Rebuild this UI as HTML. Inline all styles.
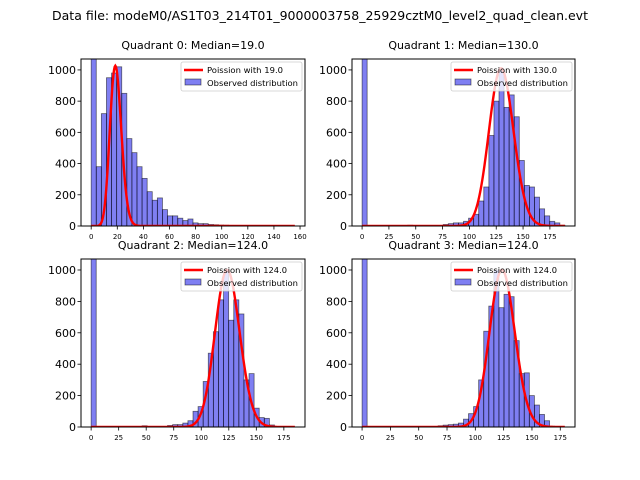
<!DOCTYPE html>
<html><head><meta charset="utf-8"><style>
html,body{margin:0;padding:0;background:#fff;}
svg{display:block;font-family:"DejaVu Sans","Liberation Sans",sans-serif;}
</style></head><body>
<svg id="chart" width="640" height="480" viewBox="0 0 640 480">
<text x="320" y="20" text-anchor="middle" font-size="12" textLength="536" lengthAdjust="spacingAndGlyphs">Data file: modeM0/AS1T03_214T01_9000003758_25929cztM0_level2_quad_clean.evt</text>
</svg>
<script>
// Data per quadrant
const quadTitles = ["Quadrant 0: Median=19.0","Quadrant 1: Median=130.0","Quadrant 2: Median=124.0","Quadrant 3: Median=124.0"];
const medians = [19.0, 130.0, 124.0, 124.0];
const dataMax = [156, 189, 185, 179];
const curvePeaks = [1020, 1010, 1000, 1000];
const xTicks = [[0,20,40,60,80,100,120,140,160],[0,25,50,75,100,125,150,175],[0,25,50,75,100,125,150,175],[0,25,50,75,100,125,150,175]];
const yTicks = [0,200,400,600,800,1000];
const counts0 = [1300,380,720,950,980,1020,850,560,470,380,305,220,165,180,105,65,65,50,35,45,20,15,15,10,8,6,5,4,3,3,2,2,1,1,1,1,0,1,1,0];
const counts1 = [1300,0,0,0,0,0,0,0,0,5,0,0,0,0,0,0,10,15,20,20,30,50,75,160,250,580,800,1000,760,840,700,420,260,250,185,110,65,30,20,5];
const counts2 = [1300,0,0,0,0,0,0,0,0,0,8,0,0,0,0,10,15,15,25,40,100,130,290,470,607,810,1000,680,810,720,300,340,120,60,55,13,3,0,0,0];
const counts3 = [1300,0,0,0,0,0,0,0,0,0,0,0,0,0,0,8,12,15,18,25,50,85,130,300,610,770,1000,760,845,830,550,340,345,200,140,80,40,5,0,0];
const allCounts = [counts0,counts1,counts2,counts3];

const boxes = [[81,59,305,226],[352,59,575,226],[81,259,305,427],[352,259,575,427]];
const xMins = [-7.8,-9.4,-9.2,-8.9];
const xMaxs = [163.8,198.4,194.2,188];
const YMAX = 1070;
const NS = "http://www.w3.org/2000/svg";
const svg = document.getElementById('chart');
function mk(tag, attrs, parent){const e=document.createElementNS(NS,tag);for(const k in attrs)e.setAttribute(k,attrs[k]);(parent||svg).appendChild(e);return e;}
function lgam(z){const c=[76.18009172947146,-86.50532032941677,24.01409824083091,-1.231739572450155,0.1208650973866179e-2,-0.5395239384953e-5];let x=z,y=z,t=x+5.5;t-=(x+0.5)*Math.log(t);let s=1.000000000190015;for(let j=0;j<6;j++)s+=c[j]/++y;return -t+Math.log(2.5066282746310005*s/x);}
function pmf(k,l){return Math.exp(k*Math.log(l)-l-lgam(k+1));}

for(let q=0;q<4;q++){
  const [L,T,R,B]=boxes[q];
  const xs=v=>L+(v-xMins[q])/(xMaxs[q]-xMins[q])*(R-L);
  const ys=v=>B-Math.min(v,YMAX)/YMAX*(B-T);
  const g=mk('g',{});
  
  
  const title=mk('text',{x:(L+R)/2,y:T-10,'text-anchor':'middle','font-size':'11'},g);
  title.textContent=quadTitles[q];
  
  
  const clip=mk('clipPath',{id:'c'+q},g);mk('rect',{x:L,y:T,width:R-L,height:B-T},clip);
  const plot=mk('g',{'clip-path':'url(#c'+q+')'},g);
  const cnt=allCounts[q], bw=dataMax[q]/cnt.length;
  cnt.forEach((c,i)=>{
    if(c<=0)return;
    const x0=xs(i*bw),x1=xs((i+1)*bw);
    const r=mk('rect',{x:x0,y:ys(c),width:x1-x0,height:B-ys(c),fill:'rgba(0,0,230,0.5)',stroke:'rgba(0,0,0,0.55)','stroke-width':'0.8'},plot);
    
    
  });
  const lam=medians[q], peakPmf=pmf(Math.floor(lam),lam);
  let d='';
  for(let k=0;k<=dataMax[q];k+=0.5){const v=pmf(k,lam)/peakPmf*curvePeaks[q];d+=(k===0?'M':'L')+xs(k).toFixed(2)+','+ys(v).toFixed(2);}
  const path=mk('path',{d:d,fill:'none',stroke:'#ff0000','stroke-width':'2.4'},plot);
  
  
  const frame=mk('rect',{x:L,y:T,width:R-L,height:B-T,fill:'none',stroke:'#000','stroke-width':'1'},g);
  
  
  yTicks.forEach(v=>{
    const y=ys(v);mk('line',{x1:L-3.5,x2:L,y1:y,y2:y,stroke:'#000','stroke-width':'0.8'},g);
    const t=mk('text',{x:L-5,y:y+4,'text-anchor':'end','font-size':'11'},g);t.textContent=v;
    
    
  });
  xTicks[q].forEach(v=>{
    const x=xs(v);mk('line',{x1:x,x2:x,y1:B,y2:B+3.5,stroke:'#000','stroke-width':'0.8'},g);
    const t=mk('text',{x:x,y:B+13,'text-anchor':'middle','font-size':'7'},g);t.textContent=v;
    
    
  });
  const lg=mk('g',{},g);
  
  
  const lx=R-124, ly=T+3;
  mk('rect',{x:lx,y:ly,width:121,height:29,rx:2,fill:'rgba(255,255,255,0.8)',stroke:'#ccc','stroke-width':'0.8'},lg);
  mk('line',{x1:lx+3,x2:lx+22,y1:ly+8,y2:ly+8,stroke:'#ff0000','stroke-width':'2.4'},lg);
  const t1=mk('text',{x:lx+26,y:ly+11,'font-size':'8',textLength: q===0?76:80,lengthAdjust:'spacingAndGlyphs'},lg);t1.textContent='Poission with '+medians[q].toFixed(1);
  
  
  mk('rect',{x:lx+4,y:ly+17,width:16,height:6,fill:'rgba(0,0,230,0.5)',stroke:'rgba(0,0,0,0.55)','stroke-width':'0.8'},lg);
  const t2=mk('text',{x:lx+26,y:ly+24,'font-size':'8',textLength:91,lengthAdjust:'spacingAndGlyphs'},lg);t2.textContent='Observed distribution';
  
  
}
</script>
</body></html>
